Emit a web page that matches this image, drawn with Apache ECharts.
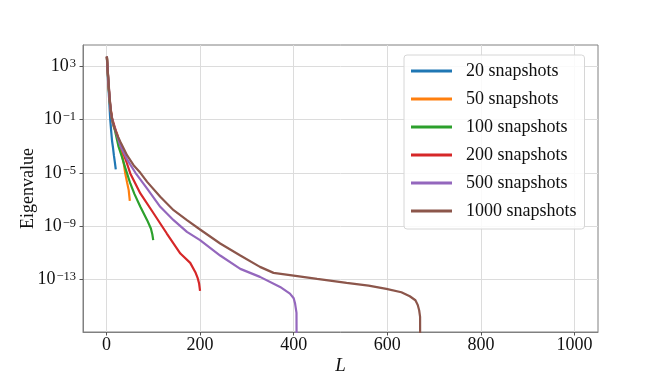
<!DOCTYPE html>
<html>
<head>
<meta charset="utf-8">
<script src="https://cdn.jsdelivr.net/npm/echarts@6/dist/echarts.min.js"></script>
<style>
  html, body { margin: 0; padding: 0; background: #fff; }
  #chart { width: 665px; height: 374px; }
</style>
</head>
<body>
<div id="chart"></div>
<script>
// eigenvalue index L and log10(eigenvalue)
const L20 = [1, 2, 3, 4, 5, 6, 8, 10, 12, 14, 16, 18, 20];
const logEig20 = [3.7, 2.8, 2.2, 1.6, 1.0, 0.4, -0.9, -1.8, -2.6, -3.1, -3.7, -4.2, -4.75];

const L50 = [1, 3, 5, 8, 12, 16, 23, 30, 33, 37, 40.5, 44, 47.6, 50];
const logEig50 = [3.7, 2.5, 1.3, 0.0, -1.0, -1.6, -2.1, -3.05, -3.55, -4.3, -5.1, -5.7, -6.3, -7.1];

const L100 = [1, 3, 5, 8, 12, 18, 26, 33, 40, 51, 60, 72.5, 87, 95, 98, 100];
const logEig100 = [3.7, 2.5, 1.3, 0.0, -1.0, -1.8, -3.05, -3.8, -4.6, -5.8, -6.6, -7.55, -8.55, -9.18, -9.6, -10.05];

const L200 = [1, 3, 5, 8, 12, 18, 25, 33, 42, 51, 72.5, 101, 129, 158, 179, 190, 195, 198, 200];
const logEig200 = [3.7, 2.5, 1.4, 0.1, -0.9, -1.6, -2.4, -3.2, -4.1, -5.05, -6.55, -8.05, -9.55, -11.05, -11.75, -12.45, -12.9, -13.3, -13.85];

const L500 = [1, 3, 5, 7, 10, 14, 20, 30, 44, 62, 87, 115, 143.5, 172, 200, 243, 286, 328, 371, 392, 400, 403, 406, 407];
const logEig500 = [3.7, 2.55, 1.5, 0.5, -0.6, -1.3, -1.9, -3.0, -4.0, -5.0, -6.18, -7.55, -8.55, -9.43, -10.05, -11.2, -12.2, -12.8, -13.55, -14.05, -14.4, -14.8, -15.5, -25];

const L1000 = [1, 2, 3, 5, 7, 10, 13, 17, 22, 30, 44, 58, 72.5, 87, 115, 143.5, 172, 200, 243, 286, 328, 357, 400, 450, 513, 560, 598, 630, 648, 660, 665, 668, 670, 671];
const logEig1000 = [3.7, 3.1, 2.6, 1.6, 0.6, -0.5, -1.1, -1.6, -2.1, -2.7, -3.68, -4.43, -5.0, -5.68, -6.8, -7.8, -8.55, -9.25, -10.3, -11.2, -12.05, -12.5, -12.7, -12.95, -13.25, -13.45, -13.7, -13.95, -14.25, -14.55, -14.9, -15.3, -15.8, -30];

const seriesNames = ['20 snapshots', '50 snapshots', '100 snapshots', '200 snapshots', '500 snapshots', '1000 snapshots'];
const xTicks = [0, 200, 400, 600, 800, 1000];
const yTicks = [-13, -9, -5, -1, 3];

var chart = echarts.init(document.getElementById('chart'), null, { renderer: 'canvas' });

var colors = ['#1f77b4', '#ff7f0e', '#2ca02c', '#d62728', '#9467bd', '#8c564b'];
var xs = [L20, L50, L100, L200, L500, L1000];
var ys = [logEig20, logEig50, logEig100, logEig200, logEig500, logEig1000];
var font = 'Liberation Serif';

var series = [];
for (var i = 0; i < seriesNames.length; i++) {
  series.push({
    name: seriesNames[i],
    type: 'line',
    data: xs[i].map(function (x, j) { return [x, ys[i][j]]; }),
    showSymbol: false,
    symbol: 'none',
    clip: true,
    lineStyle: { width: 2.2, color: colors[i] },
    itemStyle: { color: colors[i] }
  });
}

var option = {
  animation: false,
  color: colors,
  grid: {
    left: 83, right: 67, top: 45, bottom: 42,
    show: true,
    borderColor: '#808080',
    borderWidth: 1,
    outerBoundsMode: 'none'
  },
  legend: {
    orient: 'vertical',
    left: 404,
    top: 55,
    icon: 'rect',
    itemWidth: 41,
    itemHeight: 3,
    itemGap: 10,
    padding: [7, 8, 9, 7],
    backgroundColor: 'rgba(255,255,255,0.85)',
    borderColor: '#d6d6d6',
    borderWidth: 1,
    borderRadius: 3,
    textStyle: { fontFamily: font, fontSize: 18, color: '#111', lineHeight: 18, padding: [0, 0, 0, 9] },
    data: seriesNames
  },
  xAxis: {
    type: 'value',
    min: -50,
    max: 1050,
    name: 'L',
    nameLocation: 'middle',
    nameGap: 24,
    nameMoveOverlap: false,
    nameTextStyle: { fontFamily: font, fontSize: 19, fontStyle: 'italic', color: '#111' },
    axisLine: { show: true, onZero: false, lineStyle: { color: '#808080' } },
    axisTick: { show: true, inside: false, length: 3.5, customValues: xTicks, lineStyle: { color: '#555' } },
    axisLabel: {
      customValues: xTicks, margin: 4, fontFamily: font, fontSize: 18, color: '#111',
      formatter: function (v) { return String(v); }
    },
    splitLine: { show: true, lineStyle: { color: '#dcdcdc', width: 1 } }
  },
  yAxis: {
    type: 'value',
    min: -16.93,
    max: 4.575,
    name: 'Eigenvalue',
    nameLocation: 'middle',
    nameGap: 46,
    nameMoveOverlap: false,
    nameTextStyle: { fontFamily: font, fontSize: 18, color: '#111' },
    axisLine: { show: true, onZero: false, lineStyle: { color: '#808080' } },
    axisTick: { show: true, inside: false, length: 3.5, customValues: yTicks, lineStyle: { color: '#555' } },
    axisLabel: {
      customValues: yTicks,
      margin: 7,
      formatter: function (v) {
        var e = Math.round(v);
        var s = e < 0 ? '\u2212' + Math.abs(e) : '' + e;
        return '{b|10}{s|' + s + '}';
      },
      rich: {
        b: { fontFamily: font, fontSize: 18, color: '#111', verticalAlign: 'bottom', lineHeight: 18, padding: [4, 0, 0, 0] },
        s: { fontFamily: font, fontSize: 12.5, color: '#111', verticalAlign: 'top', lineHeight: 13, padding: [0, 0, 0, 1] }
      }
    },
    splitLine: { show: true, lineStyle: { color: '#dcdcdc', width: 1 } }
  },
  series: series
};

chart.setOption(option);
</script>
</body>
</html>
